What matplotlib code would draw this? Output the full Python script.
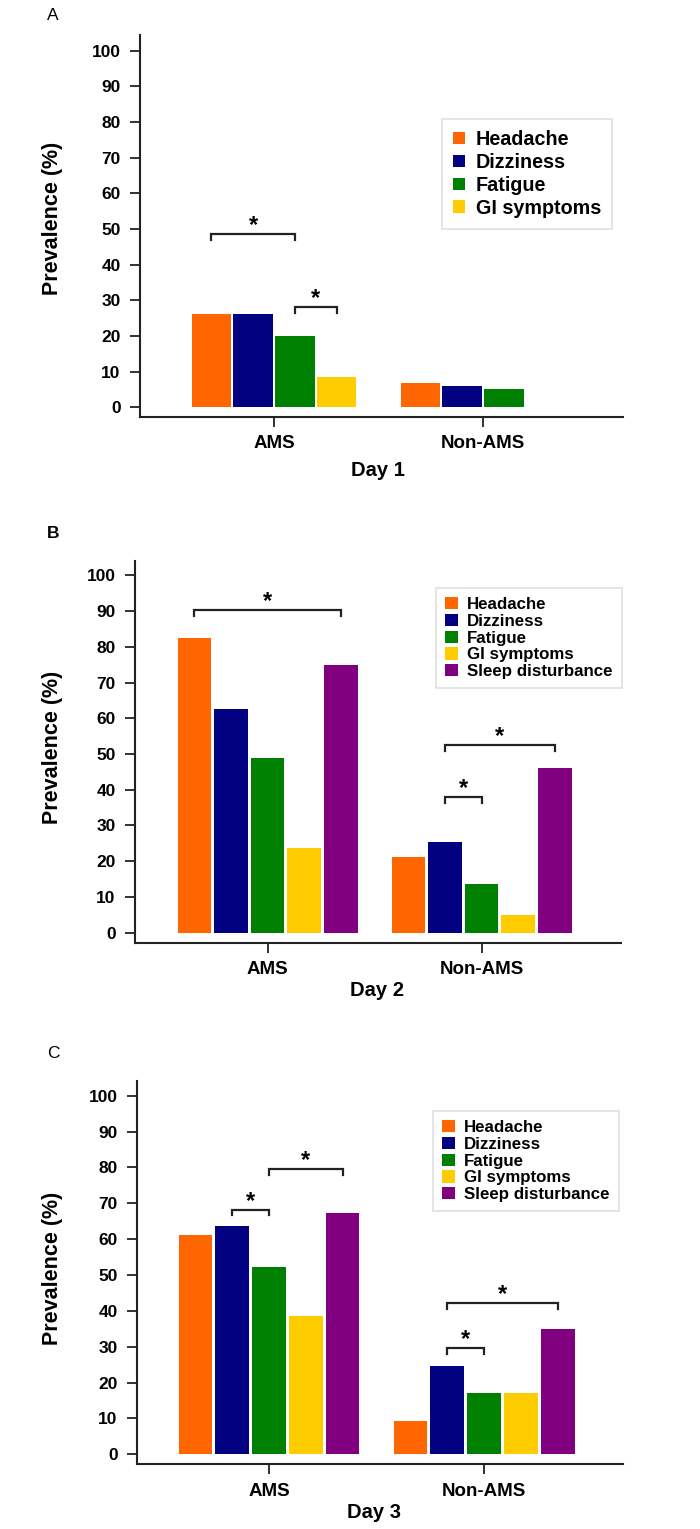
import matplotlib
matplotlib.use("Agg")
import matplotlib.pyplot as plt
from matplotlib.patches import Patch
import numpy as np

plt.rcParams['font.family'] = ['Liberation Sans', 'DejaVu Sans']
plt.rcParams['font.weight'] = 'bold'

groups = ['AMS', 'Non-AMS']
symptoms = ['Headache', 'Dizziness', 'Fatigue', 'GI symptoms', 'Sleep disturbance']
colors = ['#FF6600', '#000080', '#008000', '#FFCC00', '#800080']

# prevalence (%) per symptom, AMS vs Non-AMS
day1_ams = [26.2, 26.2, 20.0, 8.6]
day1_non = [6.7, 5.9, 5.1, 0.0]
day2_ams = [82.4, 62.5, 48.8, 23.6, 74.9]
day2_non = [21.3, 25.5, 13.5, 5.0, 46.1]
day3_ams = [61.2, 63.7, 52.3, 38.7, 67.3]
day3_non = [9.4, 24.7, 17.0, 17.0, 34.9]

# significance brackets: (group, bar from, bar to, height)
day1_sig = [(0, 0, 2, 48.5), (0, 2, 3, 28.0)]
day2_sig = [(0, 0, 4, 90.3), (1, 1, 4, 52.5), (1, 1, 2, 38.0)]
day3_sig = [(0, 1, 2, 68.2), (0, 2, 4, 79.6), (1, 1, 4, 42.2), (1, 1, 2, 29.6)]

W, H = 700, 1529
fig = plt.figure(figsize=(W / 100, H / 100), dpi=100)


def panel(rect, ams, non, sig, day, letter, letter_y, letter_bold, slot, bw,
          xlim, ylim, leg_xy, leg_fs, leg_hl, leg_ls, ylab_xy, xlab_xy):
    ax = fig.add_axes(rect)
    k = len(ams)
    offs = (np.arange(k) - (k - 1) / 2) * slot
    xc = np.arange(len(groups))
    for i in range(k):
        ax.bar(xc + offs[i], [ams[i], non[i]], width=bw, color=colors[i], linewidth=0)

    for g, i, j, y in sig:
        x1, x2 = xc[g] + offs[i], xc[g] + offs[j]
        ax.plot([x1, x1, x2, x2], [y - 1.6, y, y, y - 1.6], color='#222222', lw=1.6,
                solid_joinstyle='miter')
        ax.text((x1 + x2) / 2, y + 0.6, '*', ha='center', va='baseline', fontsize=17,
                fontweight='bold')

    ax.set_xlim(*xlim)
    ax.set_ylim(*ylim)
    ax.set_yticks(np.arange(0, 101, 10))
    ax.set_xticks(xc)
    ax.set_xticklabels(groups, fontsize=13.5, fontweight='bold')
    for s in ['top', 'right']:
        ax.spines[s].set_visible(False)
    for s in ['left', 'bottom']:
        ax.spines[s].set_linewidth(1.5)
        ax.spines[s].set_color('#222222')
    ax.tick_params(axis='y', length=7, width=1.3, labelsize=12.5, pad=7, color='#222222')
    ax.tick_params(axis='x', length=7.5, width=1.3, pad=6, color='#222222')
    for t in ax.get_yticklabels():
        t.set_fontweight('bold')

    ax.set_ylabel('Prevalence (%)', fontsize=15.5, fontweight='bold')
    ax.yaxis.set_label_coords(*ylab_xy)
    ax.set_xlabel(day, fontsize=14.5, fontweight='bold')
    ax.xaxis.set_label_coords(*xlab_xy)
    ax.xaxis.label.set_va('center')

    handles = [Patch(facecolor=colors[i], edgecolor='none') for i in range(k)]
    leg = ax.legend(handles, symptoms[:k], loc='upper left',
                    bbox_to_anchor=(leg_xy[0] / W, 1 - leg_xy[1] / H),
                    bbox_transform=fig.transFigure, borderaxespad=0,
                    fontsize=leg_fs, handlelength=leg_hl, handleheight=leg_hl,
                    handletextpad=0.55, labelspacing=leg_ls, borderpad=0.55,
                    fancybox=False, frameon=True)
    leg.get_frame().set_edgecolor('#d8d8d8')
    leg.get_frame().set_linewidth(1.2)
    for t in leg.get_texts():
        t.set_fontweight('bold')

    fig.text(47 / W, 1 - letter_y / H, letter, ha='left', va='baseline', fontsize=12.5,
             fontweight='bold' if letter_bold else 'normal')
    return ax


panel([140 / W, 1 - 416.7 / H, 483 / W, 381.7 / H], day1_ams, day1_non, day1_sig,
      'Day 1', 'A', 20, False, 0.2, 0.188, (-0.641, 1.67), (-2.64, 104.4),
      (442, 119), 14.2, 0.6, 0.2, (-0.16, 0.52), (0.492, -0.14))

panel([135 / W, 1 - 942.7 / H, 486 / W, 381.7 / H], day2_ams, day2_non, day2_sig,
      'Day 2', 'B', 538, True, 0.171, 0.157, (-0.62, 1.651), (-2.8, 104.0),
      (436, 588), 12.2, 0.72, 0.1, (-0.148, 0.513), (0.498, -0.125))

panel([137 / W, 1 - 1464 / H, 486 / W, 383 / H], day3_ams, day3_non, day3_sig,
      'Day 3', 'C', 1058, False, 0.171, 0.157, (-0.614, 1.646), (-2.7, 104.1),
      (433, 1111), 12.2, 0.72, 0.1, (-0.152, 0.512), (0.488, -0.127))

fig.savefig('out.png', dpi=100)
